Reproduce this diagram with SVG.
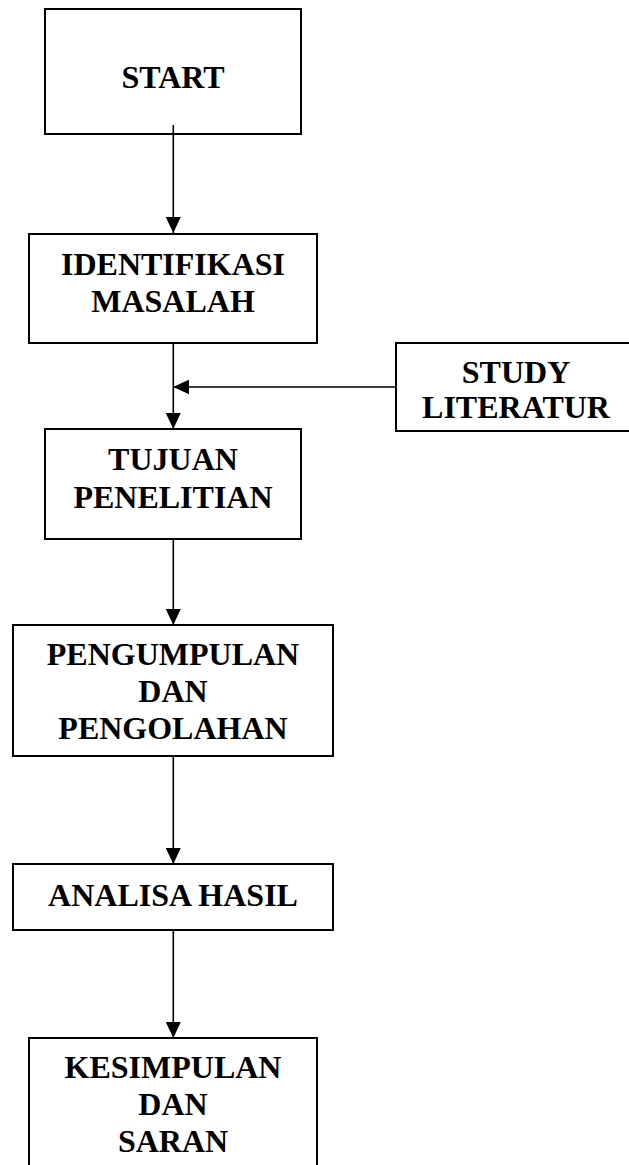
<svg xmlns="http://www.w3.org/2000/svg" width="629" height="1165" viewBox="0 0 629 1165">
<style>
.box{fill:#fff;stroke:#000;stroke-width:2}
.lbl{font-family:"Liberation Serif","Times New Roman",serif;font-weight:bold;font-size:32px;fill:#000;text-anchor:middle}
.conn{stroke:#000;stroke-width:1.6;fill:none}
</style>
<defs>
<marker id="arr" viewBox="0 0 16 15" refX="16" refY="7.5" markerWidth="16" markerHeight="15" markerUnits="userSpaceOnUse" orient="auto">
<path d="M0,0 L16,7.5 L0,15 z" fill="#000"/>
</marker>
</defs>
<rect width="629" height="1165" fill="#fff"/>
<g id="n-start">
<rect class="box" x="45" y="9" width="256" height="125"/>
<text class="lbl" x="173" y="88">START</text>
</g>
<g id="n-identifikasi">
<rect class="box" x="29" y="234" width="288" height="109"/>
<text class="lbl" x="173" y="275">IDENTIFIKASI</text>
<text class="lbl" x="173" y="312">MASALAH</text>
</g>
<g id="n-study">
<rect class="box" x="396" y="343" width="240" height="88"/>
<text class="lbl" x="516" y="383">STUDY</text>
<text class="lbl" x="516" y="418">LITERATUR</text>
</g>
<g id="n-tujuan">
<rect class="box" x="45" y="429" width="256" height="110"/>
<text class="lbl" x="173" y="470">TUJUAN</text>
<text class="lbl" x="173" y="508">PENELITIAN</text>
</g>
<g id="n-pengumpulan">
<rect class="box" x="13" y="625" width="320" height="131"/>
<text class="lbl" x="173" y="665">PENGUMPULAN</text>
<text class="lbl" x="173" y="702">DAN</text>
<text class="lbl" x="173" y="739">PENGOLAHAN</text>
</g>
<g id="n-analisa">
<rect class="box" x="13" y="864" width="320" height="66"/>
<text class="lbl" x="173" y="906">ANALISA HASIL</text>
</g>
<g id="n-kesimpulan">
<rect class="box" x="29" y="1038" width="288" height="140"/>
<text class="lbl" x="173" y="1078">KESIMPULAN</text>
<text class="lbl" x="173" y="1115">DAN</text>
<text class="lbl" x="173" y="1152">SARAN</text>
</g>
<g id="connectors">
<line class="conn" x1="173.3" y1="125" x2="173.3" y2="233" marker-end="url(#arr)"/>
<line class="conn" x1="173.3" y1="343" x2="173.3" y2="429" marker-end="url(#arr)"/>
<line class="conn" x1="396" y1="387" x2="173.3" y2="387" marker-end="url(#arr)"/>
<line class="conn" x1="173.3" y1="539" x2="173.3" y2="625" marker-end="url(#arr)"/>
<line class="conn" x1="173.3" y1="756" x2="173.3" y2="864" marker-end="url(#arr)"/>
<line class="conn" x1="173.3" y1="930" x2="173.3" y2="1038" marker-end="url(#arr)"/>
</g>
</svg>
